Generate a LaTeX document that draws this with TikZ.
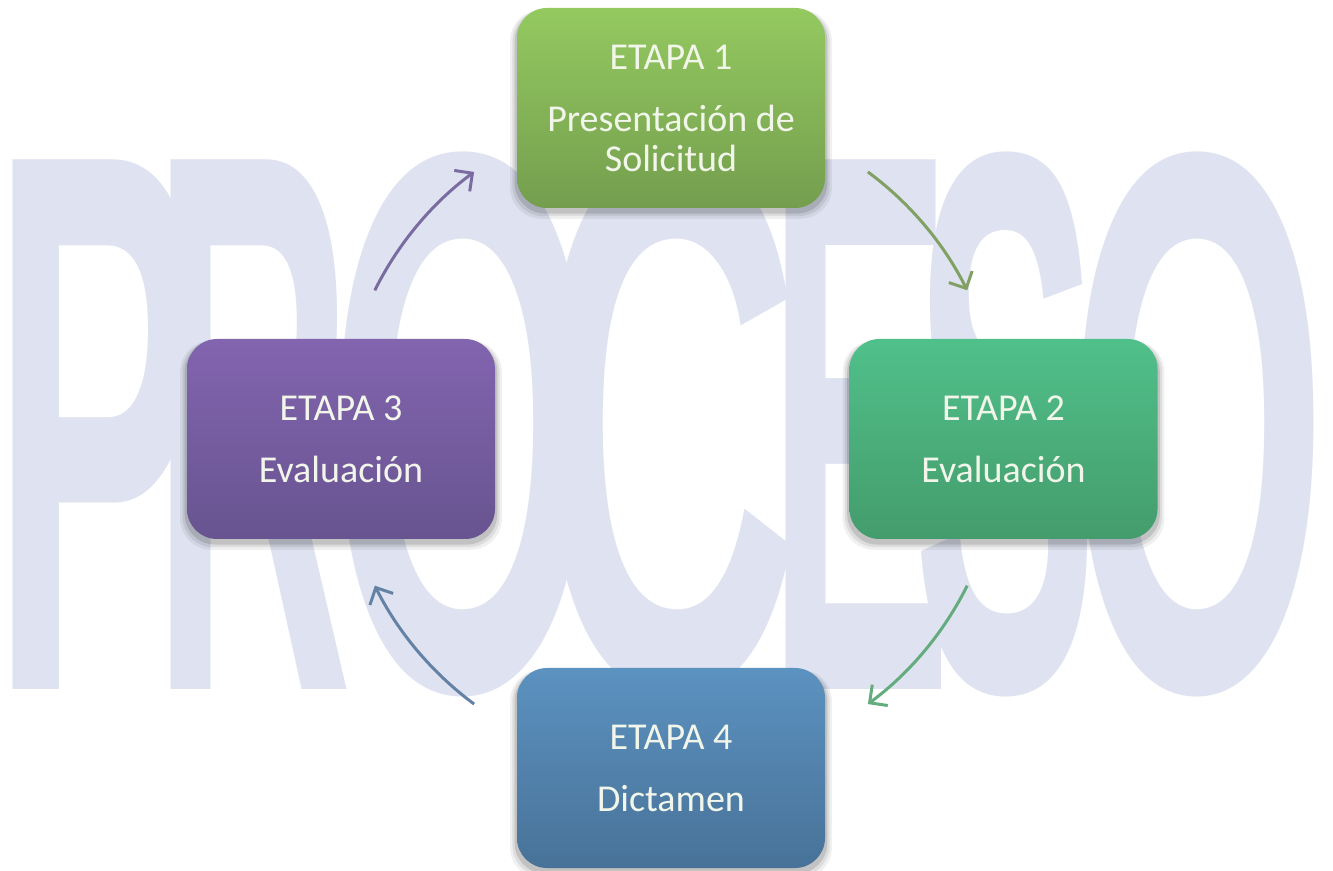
\documentclass[tikz,border=0pt]{standalone}
\usepackage{fontspec}
\setmainfont{Carlito}
\newfontfamily\bigfont{Liberation Sans Bold}
\usetikzlibrary{arrows.meta,shadows}
\definecolor{lav}{RGB}{223,227,241}
\definecolor{txt}{RGB}{242,246,234}
\definecolor{gAt}{RGB}{148,201,96}
\definecolor{gAb}{RGB}{116,158,78}
\definecolor{gBt}{RGB}{80,192,138}
\definecolor{gBb}{RGB}{68,156,108}
\definecolor{gCt}{RGB}{130,100,175}
\definecolor{gCb}{RGB}{104,84,144}
\definecolor{gDt}{RGB}{92,146,192}
\definecolor{gDb}{RGB}{72,114,152}
\definecolor{aA}{RGB}{122,108,160}
\definecolor{aB}{RGB}{128,160,100}
\definecolor{aC}{RGB}{100,172,126}
\definecolor{aD}{RGB}{100,130,165}
\tikzset{
  softshadow/.style={
    general shadow={shadow yshift=-6pt, shadow scale=1.045, fill=black, opacity=0.06},
    general shadow={shadow yshift=-5pt, shadow scale=1.03, fill=black, opacity=0.08},
    general shadow={shadow yshift=-4pt, shadow scale=1.015, fill=black, opacity=0.12}},
  stagebox/.style={rounded corners=30pt, minimum width=308pt, minimum height=200pt,
    align=center, text=txt, font=\fontsize{38}{40}\selectfont, inner sep=0pt, softshadow},
  arr/.style={line width=3pt, -{Straight Barb[length=13pt, width=26pt]}}
}
\newcommand{\lett}[3]{\makebox[0pt][l]{\hskip #1pt\scalebox{#2}[1]{#3}}}
\begin{document}
\begin{tikzpicture}[x=1pt,y=1pt]
\fill[white] (0,0) rectangle (1333,870);
\useasboundingbox (0,0) rectangle (1333,870);
% background word
\node[anchor=base west, inner sep=0pt, text=lav, font=\bigfont\fontsize{770}{770}\selectfont] (word) at (0,180)
  {\lett{-9.6}{0.418}{P}\lett{152}{0.36}{R}\lett{326.3}{0.457}{O}\lett{534}{0.48}{C}\lett{767}{0.36}{E}\lett{913}{0.36}{S}\lett{1066.6}{0.435}{O}};
% stages
\node[stagebox, top color=gAt, bottom color=gAb] (b1) at (671,762) {ETAPA 1\\[22pt]Presentación de\\Solicitud};
\node[stagebox, top color=gBt, bottom color=gBb] (b2) at (1003.5,431) {ETAPA 2\\[22pt]Evaluación};
\node[stagebox, top color=gCt, bottom color=gCb] (b3) at (341,431) {ETAPA 3\\[22pt]Evaluación};
\node[stagebox, top color=gDt, bottom color=gDb] (b4) at (671,102) {ETAPA 4\\[22pt]Dictamen};
% connectors
\coordinate (ctr) at (671,432);
\draw[arr, draw=aA] (ctr) ++(153.5:331) arc[start angle=153.5, end angle=126.5, radius=331];
\draw[arr, draw=aB] (ctr) ++(53.5:331) arc[start angle=53.5, end angle=26.5, radius=331];
\draw[arr, draw=aC] (ctr) ++(-26.5:331) arc[start angle=-26.5, end angle=-53.5, radius=331];
\draw[arr, draw=aD] (ctr) ++(-126.5:331) arc[start angle=-126.5, end angle=-153.5, radius=331];
\end{tikzpicture}
\end{document}
